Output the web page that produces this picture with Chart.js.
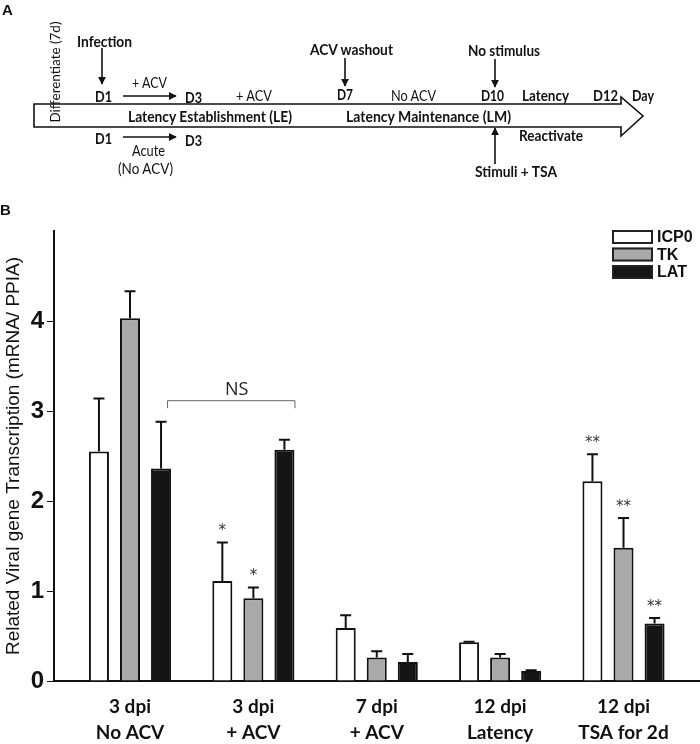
<!DOCTYPE html>
<html>
<head>
<meta charset="utf-8">
<script src="https://cdn.jsdelivr.net/npm/chart.js@4.4.1/dist/chart.umd.min.js"></script>
<style>
  body { margin: 0; background: #fff; }
  #wrap { position: relative; width: 700px; height: 744px; }
  #panelA { position: absolute; left: 0; top: 0; pointer-events: none; }
  #panelA text { fill: #111; }
</style>
</head>
<body>
<div id="wrap">
  <canvas id="chart"></canvas>
  <svg id="panelA" width="700" height="222" font-family="Lato, 'Open Sans', sans-serif" font-size="14.5">
    <defs>
      <marker id="ah" viewBox="0 0 10 10" refX="9" refY="5" markerWidth="8" markerHeight="8" markerUnits="userSpaceOnUse" orient="auto">
        <path d="M0,0 L10,5 L0,10 z" fill="#111"/>
      </marker>
    </defs>
    <text x="2" y="15" font-family="'Liberation Sans', Arial" font-weight="bold" font-size="15">A</text>
    <text x="0" y="215" font-family="'Liberation Sans', Arial" font-weight="bold" font-size="15">B</text>

    <!-- timeline arrow -->
    <polygon points="34,104 621,104 621,97 643,116 621,136 621,127 34,127" fill="#fff" stroke="#111" stroke-width="1.6"/>

    <!-- small arrows -->
    <line x1="102" y1="48" x2="102" y2="84" stroke="#111" stroke-width="1.6" marker-end="url(#ah)"/>
    <line x1="345" y1="58" x2="345" y2="86" stroke="#111" stroke-width="1.6" marker-end="url(#ah)"/>
    <line x1="495" y1="59" x2="495" y2="87" stroke="#111" stroke-width="1.6" marker-end="url(#ah)"/>
    <line x1="495" y1="164" x2="495" y2="128" stroke="#111" stroke-width="1.6" marker-end="url(#ah)"/>
    <line x1="123" y1="96" x2="176" y2="96" stroke="#111" stroke-width="1.6" marker-end="url(#ah)"/>
    <line x1="123" y1="137" x2="176" y2="137" stroke="#111" stroke-width="1.6" marker-end="url(#ah)"/>

    <text transform="translate(55,72) rotate(-90)" text-anchor="middle" dominant-baseline="central" font-size="13.5" textLength="101" lengthAdjust="spacingAndGlyphs">Differentiate (7d)</text>

    <g font-weight="bold" font-size="15">
      <text x="77" y="41" dominant-baseline="central" textLength="55" lengthAdjust="spacingAndGlyphs">Infection</text>
      <text x="310" y="49" dominant-baseline="central" textLength="83" lengthAdjust="spacingAndGlyphs">ACV washout</text>
      <text x="468" y="50" dominant-baseline="central" textLength="72" lengthAdjust="spacingAndGlyphs">No stimulus</text>
      <text x="95" y="96" dominant-baseline="central" textLength="17" lengthAdjust="spacingAndGlyphs">D1</text>
      <text x="185" y="97" dominant-baseline="central" textLength="17" lengthAdjust="spacingAndGlyphs">D3</text>
      <text x="337" y="94" dominant-baseline="central" textLength="16" lengthAdjust="spacingAndGlyphs">D7</text>
      <text x="481" y="95" dominant-baseline="central" textLength="23" lengthAdjust="spacingAndGlyphs">D10</text>
      <text x="522" y="95" dominant-baseline="central" textLength="47" lengthAdjust="spacingAndGlyphs">Latency</text>
      <text x="593" y="95" dominant-baseline="central" textLength="25" lengthAdjust="spacingAndGlyphs">D12</text>
      <text x="632" y="95" dominant-baseline="central" textLength="22" lengthAdjust="spacingAndGlyphs">Day</text>
      <text x="128" y="116" dominant-baseline="central" textLength="164" lengthAdjust="spacingAndGlyphs">Latency Establishment (LE)</text>
      <text x="346" y="116" dominant-baseline="central" textLength="165" lengthAdjust="spacingAndGlyphs">Latency Maintenance (LM)</text>
      <text x="95" y="138" dominant-baseline="central" textLength="17" lengthAdjust="spacingAndGlyphs">D1</text>
      <text x="185" y="140" dominant-baseline="central" textLength="17" lengthAdjust="spacingAndGlyphs">D3</text>
      <text x="519" y="135" dominant-baseline="central" textLength="64" lengthAdjust="spacingAndGlyphs">Reactivate</text>
      <text x="475" y="171" dominant-baseline="central" textLength="82" lengthAdjust="spacingAndGlyphs">Stimuli + TSA</text>
    </g>

    <text x="132" y="82" dominant-baseline="central" textLength="35" lengthAdjust="spacingAndGlyphs">+ ACV</text>
    <text x="236" y="95" dominant-baseline="central" textLength="36" lengthAdjust="spacingAndGlyphs">+ ACV</text>
    <text x="391" y="95" dominant-baseline="central" textLength="45" lengthAdjust="spacingAndGlyphs">No ACV</text>
    <text x="132" y="150" dominant-baseline="central" textLength="33" lengthAdjust="spacingAndGlyphs">Acute</text>
    <text x="118" y="168" dominant-baseline="central" textLength="55" lengthAdjust="spacingAndGlyphs">(No ACV)</text>
  </svg>
</div>
<script>
// groups on the x axis (two-line labels)
const groupLabels = [
    ['3 dpi', 'No ACV'],
    ['3 dpi', '+ ACV'],
    ['7 dpi', '+ ACV'],
    ['12 dpi', 'Latency'],
    ['12 dpi', 'TSA for 2d']
];
const groupPositions = [0, 1, 2, 3, 4];

// series values (mean) and upper error (SD)
const icp0Mean = [2.55, 1.11, 0.59, 0.43, 2.22];
const icp0Err  = [0.59, 0.43, 0.14, 0.005, 0.30];
const tkMean   = [4.03, 0.92, 0.26, 0.26, 1.48];
const tkErr    = [0.30, 0.12, 0.07, 0.04, 0.33];
const latMean  = [2.36, 2.57, 0.21, 0.11, 0.64];
const latErr   = [0.52, 0.11, 0.09, 0.01, 0.06];

const yTicks = [0, 1, 2, 3, 4];

// significance marks: dataset index, group index, text
const sigMarks = [
    [0, 1, '*'], [1, 1, '*'],
    [0, 4, '**'], [1, 4, '**'], [2, 4, '**']
];
// NS bracket between LAT bars of group 0 and group 1
const nsBracket = { dataset: 2, from: 0, to: 1, value: 3.12, text: 'NS' };

function toPoints(values) {
    return values.map((v, i) => ({ x: groupPositions[i], y: v }));
}

const annotate = {
    id: 'annotate',
    afterDatasetsDraw(chart) {
        const ctx = chart.ctx;
        const yScale = chart.scales.y;
        ctx.save();

        // error bars (upper only)
        chart.data.datasets.forEach((ds, d) => {
            chart.getDatasetMeta(d).data.forEach((bar, i) => {
                const top = yScale.getPixelForValue(ds.data[i].y + ds.errors[i]);
                ctx.strokeStyle = '#111';
                ctx.lineWidth = 2;
                ctx.beginPath();
                ctx.moveTo(bar.x, bar.y);
                ctx.lineTo(bar.x, top);
                ctx.moveTo(bar.x - 5.5, top);
                ctx.lineTo(bar.x + 5.5, top);
                ctx.stroke();
            });
        });

        // asterisks
        ctx.fillStyle = '#333';
        ctx.font = '15px "DejaVu Sans"';
        ctx.textAlign = 'center';
        ctx.textBaseline = 'alphabetic';
        sigMarks.forEach(([d, i, txt]) => {
            const ds = chart.data.datasets[d];
            const bar = chart.getDatasetMeta(d).data[i];
            const top = yScale.getPixelForValue(ds.data[i].y + ds.errors[i]);
            ctx.fillText(txt, bar.x, top - 7);
        });

        // NS bracket
        const b0 = chart.getDatasetMeta(nsBracket.dataset).data[nsBracket.from];
        const b1 = chart.getDatasetMeta(nsBracket.dataset).data[nsBracket.to];
        const x0 = b0.x + b0.width * 0.3;
        const x1 = b1.x + b1.width * 0.5;
        const by = yScale.getPixelForValue(nsBracket.value);
        ctx.strokeStyle = '#666';
        ctx.lineWidth = 1;
        ctx.beginPath();
        ctx.moveTo(x0 + 0.5, by + 8);
        ctx.lineTo(x0 + 0.5, by + 0.5);
        ctx.lineTo(x1 + 0.5, by + 0.5);
        ctx.lineTo(x1 + 0.5, by + 8);
        ctx.stroke();
        ctx.fillStyle = '#222';
        ctx.font = '18px "Open Sans"';
        ctx.textBaseline = 'bottom';
        ctx.fillText(nsBracket.text, (x0 + x1) / 2 + 6, by - 1);

        // legend (top right)
        const lx = chart.chartArea.right - 88;
        ctx.textAlign = 'left';
        ctx.textBaseline = 'middle';
        ctx.font = 'bold 16px "Liberation Sans"';
        chart.data.datasets.forEach((ds, d) => {
            const ty = chart.chartArea.top - 1 + d * 17.5;
            ctx.fillStyle = ds.backgroundColor;
            ctx.fillRect(lx, ty, 41, 14);
            ctx.strokeStyle = '#222';
            ctx.lineWidth = 2;
            ctx.strokeRect(lx + 1, ty + 1, 39, 12);
            ctx.fillStyle = '#111';
            ctx.fillText(ds.label, lx + 45, ty + 8);
        });
        ctx.restore();
    }
};

const ctx = document.getElementById('chart').getContext('2d');
const barStyle = { borderColor: '#111', borderWidth: 2, categoryPercentage: 0.755, barPercentage: 0.645 };

new Chart(ctx, {
    type: 'bar',
    data: {
        datasets: [
            Object.assign({ label: 'ICP0', data: toPoints(icp0Mean), errors: icp0Err, backgroundColor: '#ffffff' }, barStyle),
            Object.assign({ label: 'TK', data: toPoints(tkMean), errors: tkErr, backgroundColor: '#a9a9a9' }, barStyle),
            Object.assign({ label: 'LAT', data: toPoints(latMean), errors: latErr, backgroundColor: '#151515' }, barStyle)
        ]
    },
    options: {
        responsive: true,
        maintainAspectRatio: false,
        animation: false,
        layout: { padding: { top: 231, left: 0, right: 0, bottom: 0 } },
        scales: {
            x: {
                type: 'linear',
                min: -0.616,
                max: 4.62,
                offset: false,
                afterBuildTicks: (s) => { s.ticks = groupPositions.map(v => ({ value: v })); },
                afterFit: (s) => { s.height = 63; },
                grid: { display: false, drawTicks: false, offset: false },
                border: { display: true, color: '#111', width: 2 },
                ticks: {
                    autoSkip: false,
                    maxRotation: 0,
                    padding: 13,
                    color: '#111',
                    font: { family: 'Lato', weight: 'bold', size: 19, lineHeight: 1.37 },
                    callback: (v) => groupLabels[v]
                }
            },
            y: {
                min: 0,
                max: 5,
                afterBuildTicks: (s) => { s.ticks = yTicks.map(v => ({ value: v })); },
                afterFit: (s) => { s.width = 54; },
                grid: { drawOnChartArea: false, drawTicks: true, tickLength: 7, color: '#111', lineWidth: 1 },
                border: { display: true, color: '#111', width: 2 },
                ticks: {
                    padding: 3,
                    color: '#111',
                    font: { family: 'Liberation Sans', weight: 'bold', size: 24 }
                },
                title: {
                    display: true,
                    text: 'Related Viral gene Transcription (mRNA/ PPIA)',
                    color: '#111',
                    padding: { top: 2, bottom: 0 },
                    font: { family: 'Liberation Sans', size: 19 }
                }
            }
        },
        plugins: {
            legend: { display: false },
            tooltip: { enabled: false }
        }
    },
    plugins: [annotate]
});
</script>
</body>
</html>
